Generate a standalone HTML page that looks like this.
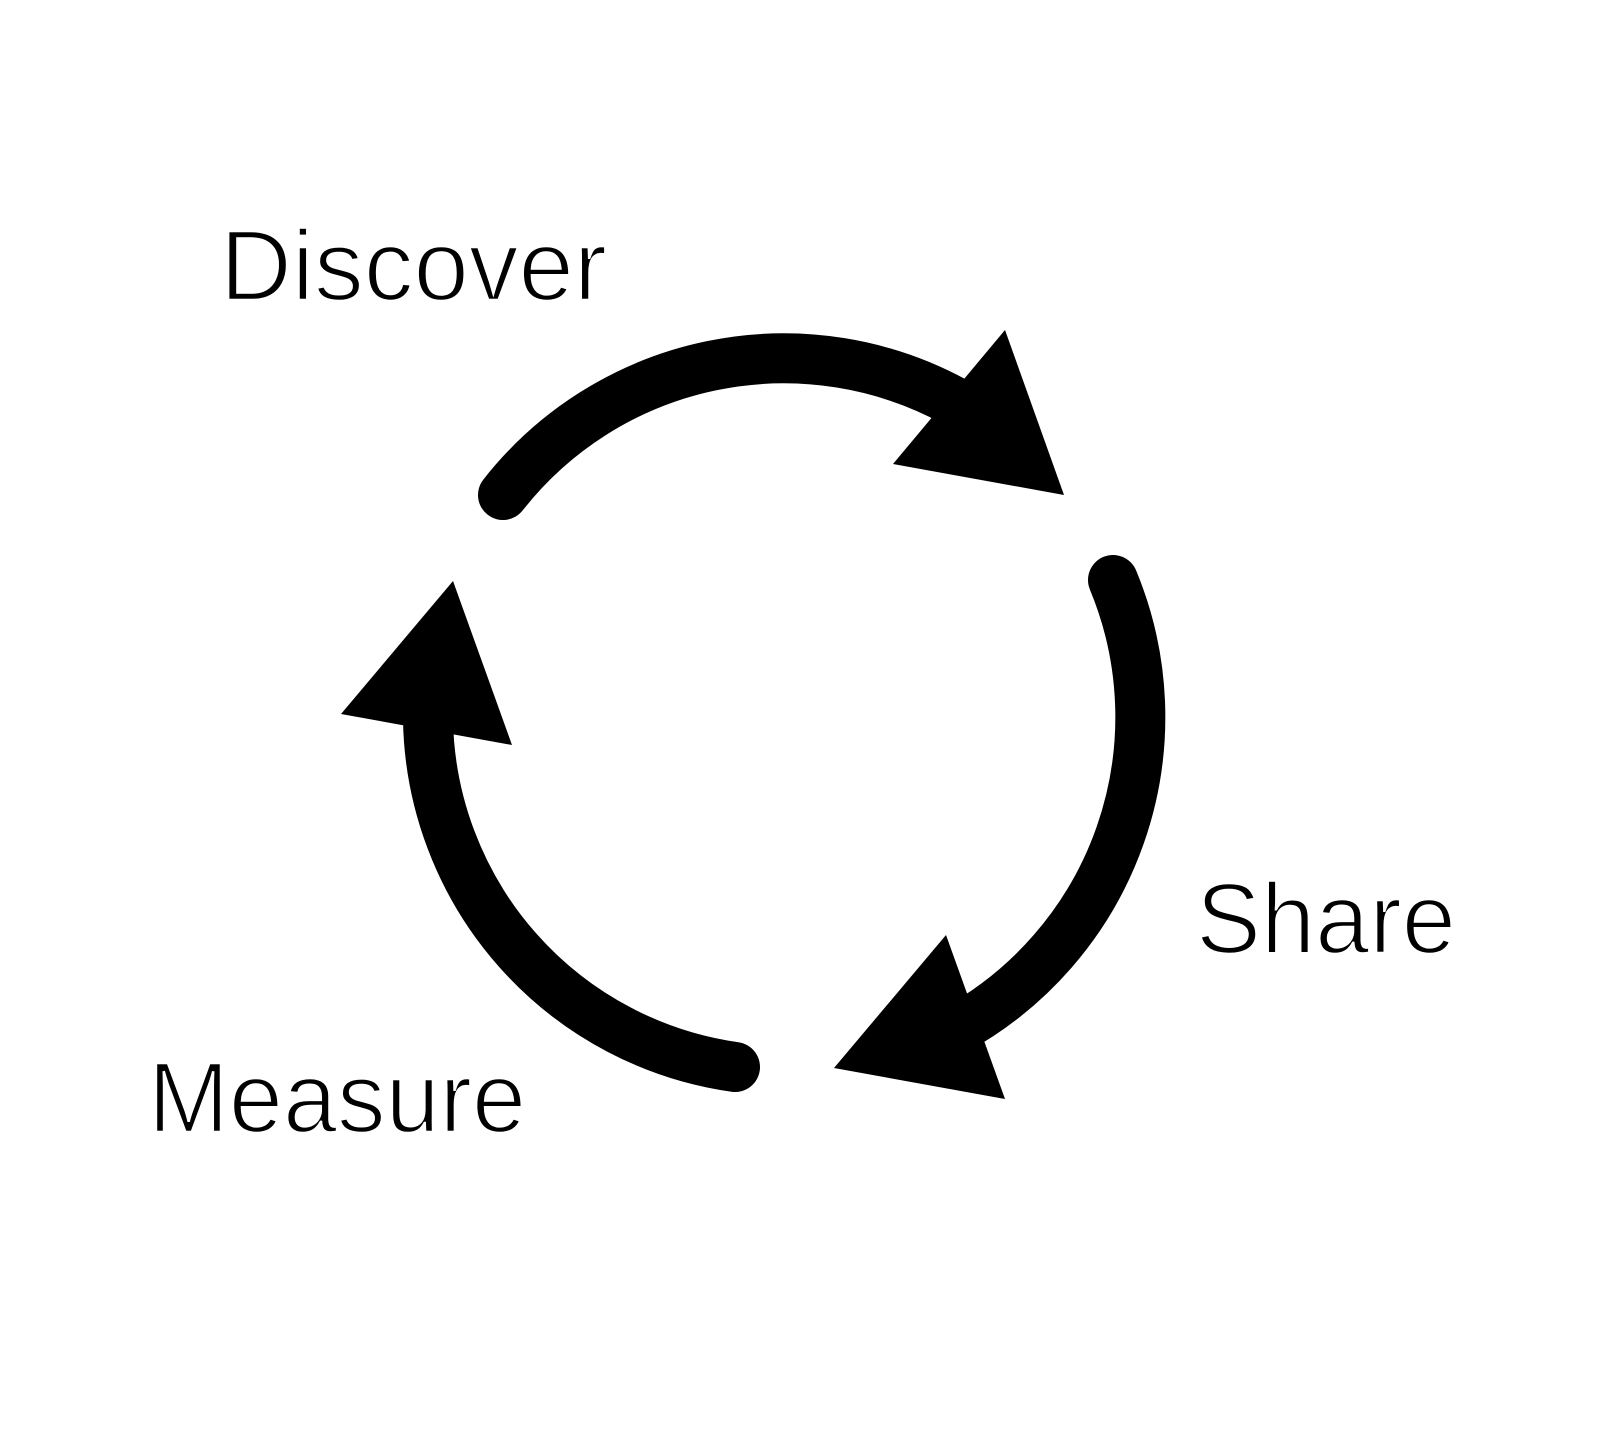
<!DOCTYPE html>
<html><head><style>html,body{margin:0;padding:0;background:#fff}svg{display:block}</style></head>
<body>
<svg width="1600" height="1455" viewBox="0 0 1600 1455" xmlns="http://www.w3.org/2000/svg">
<rect width="1600" height="1455" fill="#fff"/>
<g fill="none" stroke="#000" stroke-width="50" stroke-linecap="round">
<path d="M503,495 A357,357 0 0 1 955,402"/>
<path d="M1113,580 A357,357 0 0 1 955,1030"/>
<path d="M735,1067 A357,357 0 0 1 428,720"/>
</g>
<g fill="#000">
<polygon points="1005,330 1064,495 893,464"/>
<polygon points="946,935 1005,1099 834,1068"/>
<polygon points="453,581 512,745 341,714"/>
</g>
<g font-family="Liberation Sans, sans-serif" font-size="100" fill="#000" stroke="#fff" stroke-width="2.5">
<text x="220" y="300" textLength="387" lengthAdjust="spacingAndGlyphs">Discover</text>
<text x="1196" y="953" textLength="260" lengthAdjust="spacingAndGlyphs">Share</text>
<text x="148" y="1132" textLength="378" lengthAdjust="spacingAndGlyphs">Measure</text>
</g>
</svg>
</body></html>
